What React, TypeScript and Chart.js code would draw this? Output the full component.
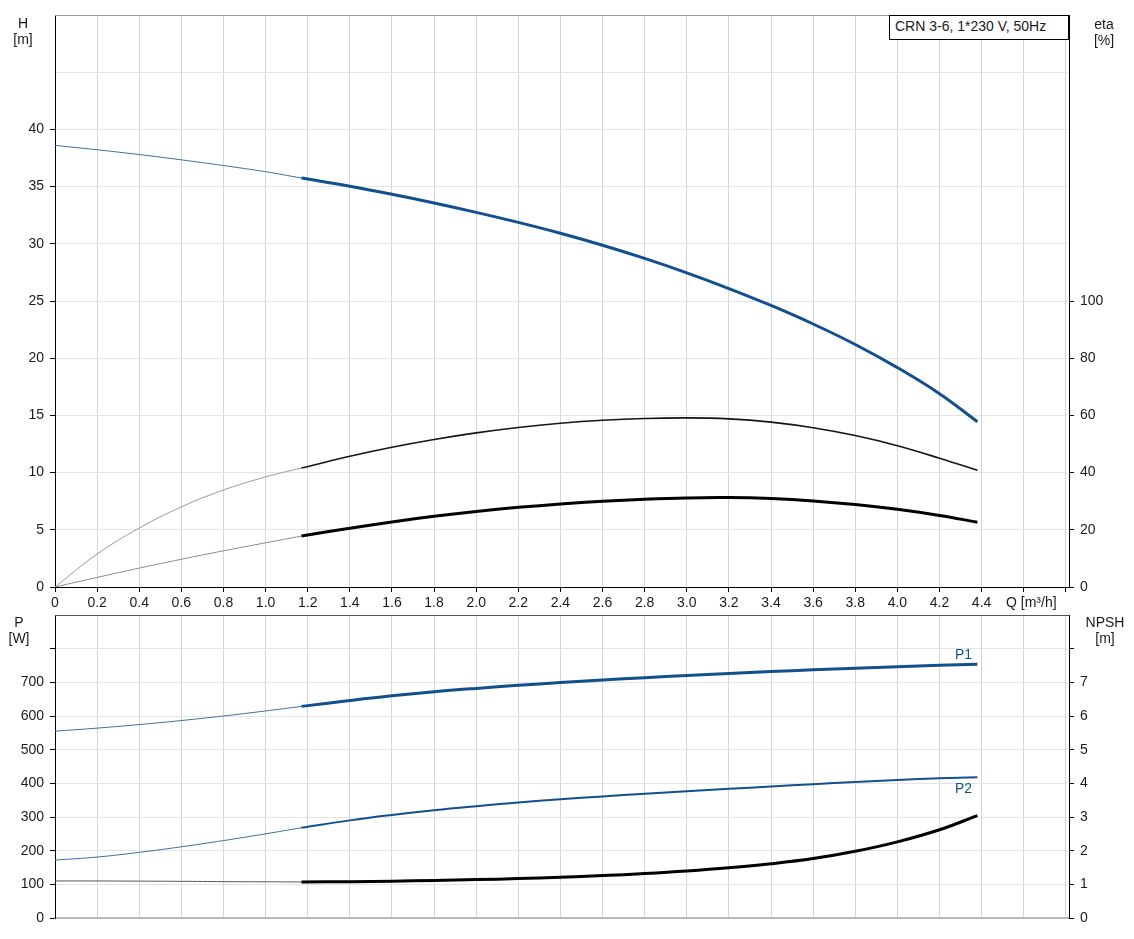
import React, { useEffect, useRef } from 'react';
import { Chart, registerables } from 'chart.js';
Chart.register(...registerables);

// Flow (Q, m³/h): thin start section and main (thick) section
const qStart = [0, 0.2, 0.4, 0.6, 0.8, 1.0, 1.17];
const qMain = [1.17, 1.4, 1.6, 1.8, 2.0, 2.2, 2.4, 2.6, 2.8, 3.0, 3.2, 3.4, 3.6, 3.8, 4.0, 4.2, 4.38];

// Head H [m]
const headStart = [38.6, 38.22, 37.8, 37.34, 36.84, 36.3, 35.75];
const headMain = [35.75, 35.03, 34.33, 33.57, 32.75, 31.87, 30.92, 29.87, 28.72, 27.46, 26.09, 24.61, 22.99, 21.2, 19.18, 16.9, 14.45];

// Efficiency eta [%] (pump)
const etaPumpStart = [0, 11.5, 20.6, 28.0, 33.9, 38.5, 41.6];
const etaPumpMain = [41.6, 45.7, 48.85, 51.58, 53.89, 55.78, 57.25, 58.3, 58.93, 59.14, 58.79, 57.64, 55.69, 52.94, 49.39, 45.04, 40.8];

// Efficiency eta [%] (total)
const etaTotalStart = [0, 3.35, 6.6, 9.7, 12.65, 15.45, 17.8];
const etaTotalMain = [17.8, 20.56, 22.76, 24.71, 26.41, 27.86, 29.06, 30.01, 30.71, 31.16, 31.26, 30.91, 30.11, 28.86, 27.16, 25.01, 22.67];

// Power P1 / P2 [W]
const p1Start = [555, 564, 574.5, 586.5, 600, 615, 628.6];
const p1Main = [628.6, 646, 660, 672, 682, 691, 699.3, 706.9, 713.9, 720.4, 726.4, 732, 737.2, 742, 746.4, 750.4, 753.6];
const p2Start = [172, 181, 195, 211.5, 230, 250, 268];
const p2Main = [268, 290, 306, 320, 332, 343, 352.5, 361, 369, 376.5, 383.7, 390.7, 397.5, 404, 410, 414.8, 418.2];

// NPSH [m]
const npshStart = [1.1, 1.1, 1.095, 1.09, 1.08, 1.075, 1.07];
const npshMain = [1.07, 1.08, 1.095, 1.115, 1.14, 1.17, 1.21, 1.26, 1.32, 1.395, 1.49, 1.61, 1.765, 1.98, 2.26, 2.62, 3.04];

const Q_MAX = 4.815;
const FONT_FAMILY = '"Liberation Sans", Arial, Helvetica, sans-serif';
const TICK_FONT = { family: FONT_FAMILY, size: 14 };
const TEXT_COLOR = '#1a1a1a';
const BLUE = '#124f8e';
const V_GRID = '#d2d5d9';
const H_GRID = '#e4e4e4';

const pts = (xs: number[], ys: number[]) => xs.map((x, i) => ({ x, y: ys[i] }));

const line = (label: string, data: any[], color: string, width: number, yAxisID: string) => ({
  label,
  data,
  borderColor: color,
  backgroundColor: color,
  borderWidth: width,
  pointRadius: 0,
  fill: false,
  tension: 0.4,
  yAxisID,
});

const framePlugin = (topColor: string) => ({
  id: 'frame',
  afterDraw(chart: any) {
    const { ctx, chartArea: a } = chart;
    ctx.save();
    ctx.strokeStyle = topColor;
    ctx.lineWidth = 1;
    ctx.beginPath();
    ctx.moveTo(a.left, Math.round(a.top) + 0.5);
    ctx.lineTo(a.right, Math.round(a.top) + 0.5);
    ctx.stroke();
    ctx.restore();
  },
});

const xAxis = (showLabels: boolean, height: number) => ({
  type: 'linear' as const,
  min: 0,
  max: Q_MAX,
  afterFit: (s: any) => { s.height = height; },
  grid: {
    color: V_GRID,
    lineWidth: 1,
    drawTicks: showLabels,
    tickLength: 5,
    tickColor: '#000',
    tickWidth: 1,
  },
  border: showLabels ? { color: '#000', width: 1 } : { color: '#b8b8b8', width: 2 },
  ticks: {
    display: showLabels,
    stepSize: 0.2,
    includeBounds: false,
    autoSkip: false,
    maxRotation: 0,
    padding: 3,
    font: TICK_FONT,
    color: TEXT_COLOR,
    callback: (v: any) => {
      const n = Number(v);
      if (n > 4.45) return '';
      return n === 0 ? '0' : n.toFixed(1);
    },
  },
});

const yAxis = (
  pos: 'left' | 'right', max: number, step: number, labelMax: number, tickMax: number,
  width: number, grid: boolean
) => ({
  type: 'linear' as const,
  position: pos,
  min: 0,
  max,
  afterFit: (s: any) => { s.width = width; },
  grid: {
    drawOnChartArea: grid,
    color: H_GRID,
    lineWidth: 1,
    tickLength: 5,
    tickWidth: 1,
    tickColor: (ctx: any) => (ctx.tick && ctx.tick.value <= tickMax + 1e-9 ? '#000' : 'rgba(0,0,0,0)'),
  },
  border: { color: '#000', width: 1 },
  ticks: {
    stepSize: step,
    autoSkip: false,
    padding: 6,
    font: TICK_FONT,
    color: TEXT_COLOR,
    callback: (v: any) => (Number(v) <= labelMax + 1e-9 ? String(Number(v)) : ''),
  },
});

export default function App() {
  const topRef = useRef<HTMLCanvasElement>(null);
  const botRef = useRef<HTMLCanvasElement>(null);

  useEffect(() => {
    const top = new Chart(topRef.current!, {
      type: 'line',
      data: {
        datasets: [
          line('H start', pts(qStart, headStart), '#3b6ea6', 1, 'y'),
          line('eta start', pts(qStart, etaPumpStart), '#9a9a9a', 1, 'y1'),
          line('eta total start', pts(qStart, etaTotalStart), '#8a8a8a', 1, 'y1'),
          line('H', pts(qMain, headMain), BLUE, 3, 'y'),
          line('eta', pts(qMain, etaPumpMain), '#151515', 1.6, 'y1'),
          line('eta total', pts(qMain, etaTotalMain), '#000', 3, 'y1'),
        ],
      },
      options: {
        responsive: false,
        animation: false,
        layout: { padding: { top: 15, left: 0, right: 0, bottom: 0 } },
        plugins: { legend: { display: false }, tooltip: { enabled: false } },
        scales: {
          x: xAxis(true, 25),
          y: yAxis('left', 50, 5, 40, 40, 55, true),
          y1: yAxis('right', 200, 20, 100, 100, 65, false),
        },
      },
      plugins: [framePlugin('#9a9a9a')],
    } as any);

    const bot = new Chart(botRef.current!, {
      type: 'line',
      data: {
        datasets: [
          line('P1 start', pts(qStart, p1Start), '#3b6ea6', 1, 'y'),
          line('P2 start', pts(qStart, p2Start), '#3b6ea6', 1, 'y'),
          line('NPSH start', pts(qStart, npshStart), '#555', 1, 'y1'),
          line('P1', pts(qMain, p1Main), BLUE, 3, 'y'),
          line('P2', pts(qMain, p2Main), BLUE, 2, 'y'),
          line('NPSH', pts(qMain, npshMain), '#000', 3, 'y1'),
        ],
      },
      options: {
        responsive: false,
        animation: false,
        layout: { padding: { top: 15, left: 0, right: 0, bottom: 0 } },
        plugins: { legend: { display: false }, tooltip: { enabled: false } },
        scales: {
          x: xAxis(false, 21),
          y: yAxis('left', 900, 100, 700, 800, 55, true),
          y1: yAxis('right', 9, 1, 7, 8, 65, false),
        },
      },
      plugins: [framePlugin('#555')],
    } as any);

    return () => {
      top.destroy();
      bot.destroy();
    };
  }, []);

  const txt: React.CSSProperties = {
    position: 'absolute',
    fontFamily: FONT_FAMILY,
    fontSize: 14,
    lineHeight: '16px',
    color: TEXT_COLOR,
    whiteSpace: 'nowrap',
  };
  const center = (cx: number, top: number, w = 60): React.CSSProperties => ({
    ...txt,
    left: cx - w / 2,
    width: w,
    top,
    textAlign: 'center',
  });

  return (
    <div style={{ position: 'absolute', left: 0, top: 0, width: 1134, height: 939, background: '#fff' }}>
      <canvas ref={topRef} width={1134} height={612} style={{ position: 'absolute', left: 0, top: 0, display: 'block' }} />
      <canvas ref={botRef} width={1134} height={339} style={{ position: 'absolute', left: 0, top: 600, display: 'block' }} />

      <div style={center(23, 15)}>H<br />[m]</div>
      <div style={center(1104, 16)}>eta<br />[%]</div>
      <div style={center(19, 614)}>P<br />[W]</div>
      <div style={center(1105, 614)}>NPSH<br />[m]</div>

      <div style={{ ...txt, left: 1006, top: 594 }}>Q [m³/h]</div>
      <div style={{ ...txt, left: 955, top: 646, color: BLUE }}>P1</div>
      <div style={{ ...txt, left: 955, top: 780, color: BLUE }}>P2</div>

      <div
        style={{
          ...txt,
          left: 889,
          top: 15,
          width: 180,
          height: 25,
          boxSizing: 'border-box',
          border: '1px solid #000',
          background: '#fff',
          paddingLeft: 5,
          paddingTop: 2,
        }}
      >
        CRN 3-6, 1*230 V, 50Hz
      </div>
    </div>
  );
}
